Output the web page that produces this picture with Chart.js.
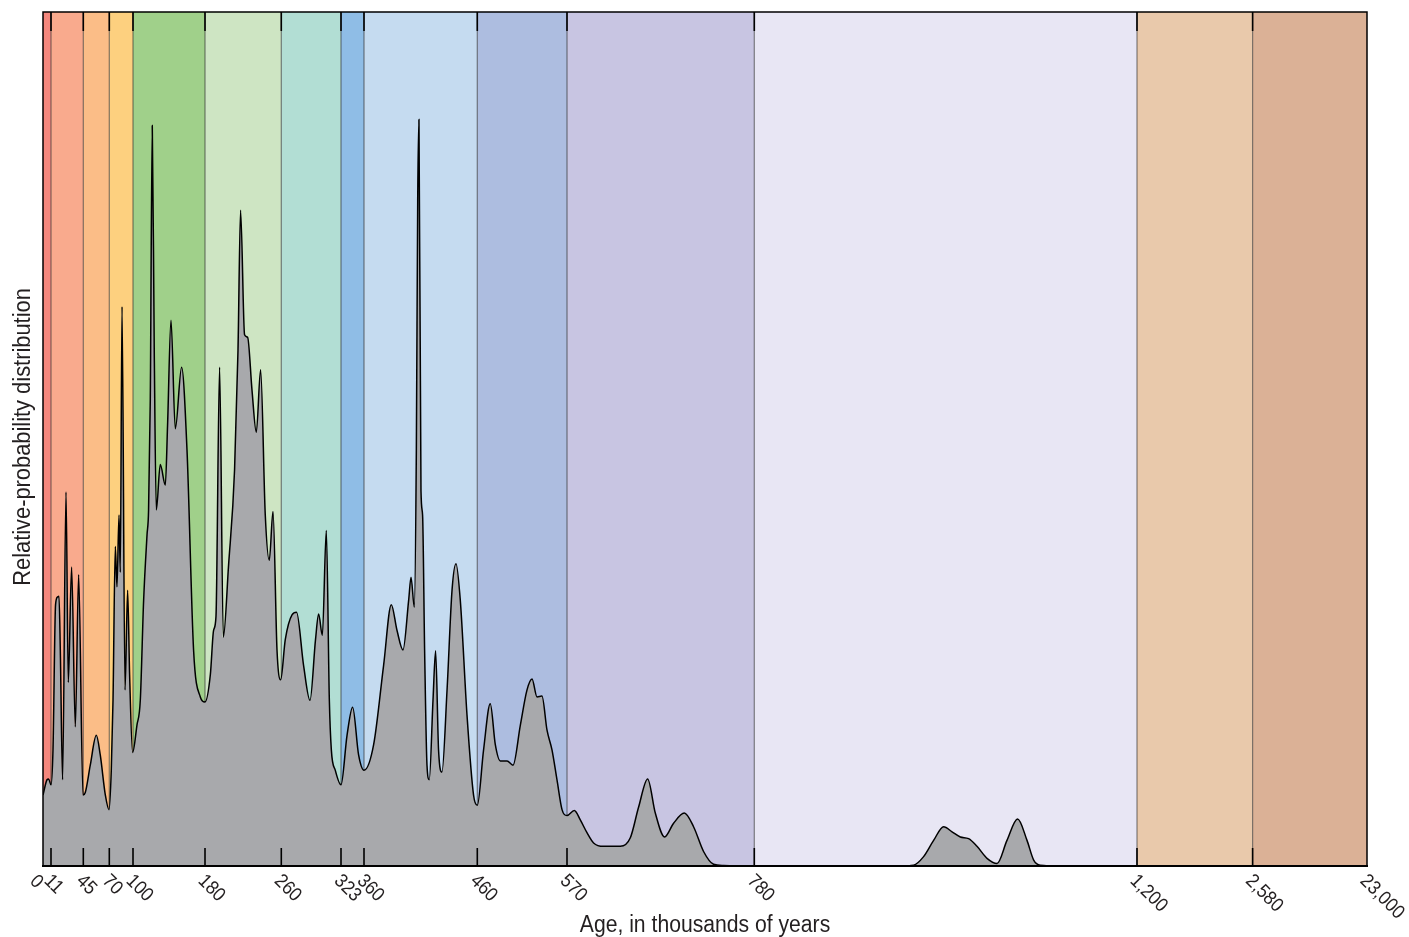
<!DOCTYPE html>
<html>
<head>
<meta charset="utf-8">
<style>
  html, body { margin: 0; padding: 0; background: #ffffff; }
  #wrap { width: 1409px; height: 937px; }
</style>
<script src="https://cdn.jsdelivr.net/npm/chart.js"></script>
</head>
<body>
<div id="wrap"><canvas id="c" width="1409" height="937"></canvas></div>
<script>
// ---- Data -------------------------------------------------------------
// Age-band boundaries (thousands of years) – also the tick values
const ageBoundaries = [0, 11, 45, 70, 100, 180, 260, 323, 360, 460, 570, 780, 1200, 2580, 23000];
const tickLabels = ['0', '11', '45', '70', '100', '180', '260', '323', '360', '460', '570', '780', '1,200', '2,580', '23,000'];

// Ages (ka) of the sampled relative-probability curve
const ages = [
  0, 5.5, 7.7, 11, 13.1, 15.8, 17.9, 19.4, 20.8, 23.2, 26.8, 29.2, 32.7, 36.6, 40.1, 44.7,
  46.9, 51.7, 57.5, 61.3, 66.2, 69.7,
  72.5, 74.7, 77.6, 79.7, 82.3, 83.9, 86.1, 89.9, 93.2, 95.7, 99.5,
  104.4, 108.1, 111.8, 115.6, 117.3, 119.2, 121.4, 123.6, 125.9, 130.3, 135.9, 138.4, 142.2, 147.0, 154.0, 160.0, 167.3, 174.8, 180.0,
  185.6, 189.0, 191.5, 195.3, 199.2, 204.7, 211.0, 214.6, 217.3, 221.5, 224.7, 229.3, 233.8, 238.3, 243.2, 247.4, 251.3, 255.5, 259.3,
  264.2, 271.3, 276.1, 283.5, 290.3, 296.1, 299.4, 303.3, 307.5, 310.7, 312.8, 317.0, 323.0,
  332.7, 341.7, 351.3, 360.0,
  368.5, 377.3, 384.1, 389.1, 394.4, 399.4, 401.5, 404.4, 406.2, 407.4, 408.5, 410.3, 411.7, 413.5, 415.6, 417.6, 420.9, 423.2, 425.8, 428.8, 433.3, 437.7, 441.2, 445.0, 450.9, 456.7, 460.0,
  467.7, 475.9, 482.1, 488.2, 496.5, 503.8, 512.8, 520.9, 527.1, 533.2, 539.3, 545.5, 551.6, 557.7, 563.9, 570.0,
  578.2, 584.9, 592.4, 599.8, 611.0, 629.8, 641.0, 650.3, 660.4, 669.0, 679.4, 689.5, 701.5, 711.9, 723.1, 734.3, 745.5, 780,
  940, 954.8, 965.8, 976.8, 987.8, 997.0, 1006.1, 1015.2, 1024.4, 1035.4, 1046.4, 1057.3, 1069.0, 1079.3, 1086.6, 1093.9, 1115, 23000
];
// Relative probability (arbitrary units, 0–100)
const density = [
  8.3, 10.1, 10.2, 9.5, 13.6, 30.6, 31.5, 31.6, 25.3, 10.1, 43.8, 21.5, 35.0, 16.3, 34.1, 8.3,
  8.6, 11.8, 15.3, 13.0, 8.3, 6.6,
  11.2, 19.4, 37.4, 32.7, 41.1, 34.4, 65.5, 20.6, 32.3, 22.4, 13.3,
  16.5, 19.4, 31.1, 38.8, 41.7, 54.6, 86.7, 60.4, 41.7, 47.0, 44.6, 51.6, 63.9, 51.2, 58.4, 48.7, 25.3, 19.8, 19.2,
  22.4, 27.6, 29.2, 58.4, 26.8, 35.2, 46.4, 60.4, 76.8, 62.2, 61.9, 55.7, 50.8, 58.1, 41.1, 35.8, 41.5, 25.3, 21.8,
  26.5, 29.4, 29.7, 23.5, 19.4, 26.5, 29.5, 27.0, 39.3, 19.4, 13.6, 11.2, 9.5,
  15.3, 18.6, 13.0, 11.2,
  14.2, 23.5, 30.6, 27.6, 25.3, 31.1, 33.8, 30.3, 48.7, 78.0, 87.4, 43.9, 41.1, 25.3, 11.8, 10.1, 19.4, 25.2, 13.6, 11.0, 20.6, 32.3, 35.4, 31.1, 17.7, 8.3, 7.1,
  13.6, 19.0, 14.2, 12.3, 12.3, 11.8, 16.5, 20.6, 21.9, 19.8, 19.9, 15.9, 13.6, 10.1, 6.6, 5.9,
  6.5, 5.4, 3.9, 2.7, 2.3, 2.3, 3.3, 6.9, 10.2, 6.2, 3.4, 5.0, 6.2, 4.6, 1.7, 0.2, 0.05, 0,
  0, 0.1, 1.1, 3.0, 4.6, 4.0, 3.4, 3.2, 2.3, 0.9, 0.3, 3.0, 5.5, 3.0, 0.7, 0.1, 0, 0
];

// ---- Axis configuration (distorted age axis) ---------------------------
// fraction of the axis length at which each boundary age sits
const axisFractions = [0, 0.00604, 0.03044, 0.05008, 0.06798, 0.12236, 0.17998, 0.22508,
  0.24245, 0.32802, 0.39577, 0.53724, 0.82628, 0.91360, 1];

const bandColors = ['#f4877d', '#f9aa8d', '#fbbd87', '#fdd07f', '#a0d08a', '#cee5c3', '#b2ded4',
  '#8fbde6', '#c5dbf0', '#adbde0', '#c8c5e2', '#e8e6f4', '#e9c9ab', '#dbb196'];

const FONT = '"Liberation Sans", Arial, sans-serif';
const NARROW = 0.9;   // horizontal condensing of the text
const INK = '#231f20';

// ---- Piecewise-linear scale -------------------------------------------
class PiecewiseScale extends Chart.LinearScale {
  getPixelForValue(value) {
    const b = ageBoundaries, f = axisFractions;
    let frac;
    if (value <= b[0]) frac = f[0];
    else if (value >= b[b.length - 1]) frac = f[f.length - 1];
    else {
      let i = 0;
      while (value > b[i + 1]) i++;
      frac = f[i] + (value - b[i]) / (b[i + 1] - b[i]) * (f[i + 1] - f[i]);
    }
    return this.getPixelForDecimal(frac);
  }
  getValueForPixel(pixel) {
    const b = ageBoundaries, f = axisFractions;
    const d = this.getDecimalForPixel(pixel);
    if (d <= 0) return b[0];
    if (d >= 1) return b[b.length - 1];
    let i = 0;
    while (d > f[i + 1]) i++;
    return b[i] + (d - f[i]) / (f[i + 1] - f[i]) * (b[i + 1] - b[i]);
  }
}
PiecewiseScale.id = 'piecewise';
PiecewiseScale.defaults = Chart.LinearScale.defaults;
Chart.register(PiecewiseScale);

// ---- Decoration plugin -------------------------------------------------
const decor = {
  id: 'decor',
  beforeDatasetsDraw(chart) {
    const { ctx, chartArea: a, scales: { x } } = chart;
    ctx.save();
    for (let i = 0; i < ageBoundaries.length - 1; i++) {
      const x0 = x.getPixelForValue(ageBoundaries[i]);
      const x1 = x.getPixelForValue(ageBoundaries[i + 1]);
      ctx.fillStyle = bandColors[i];
      ctx.fillRect(x0, a.top, x1 - x0, a.bottom - a.top);
    }
    ctx.strokeStyle = 'rgba(50,50,50,0.6)';
    ctx.lineWidth = 1.2;
    for (let i = 1; i < ageBoundaries.length - 1; i++) {
      const px = x.getPixelForValue(ageBoundaries[i]);
      ctx.beginPath();
      ctx.moveTo(px, a.top);
      ctx.lineTo(px, a.bottom);
      ctx.stroke();
    }
    ctx.restore();
  },
  afterDatasetsDraw(chart) {
    const { ctx, chartArea: a, scales: { x } } = chart;
    ctx.save();
    // inner tick marks (top and bottom)
    ctx.strokeStyle = '#000';
    ctx.lineWidth = 1.6;
    for (let i = 1; i < ageBoundaries.length - 1; i++) {
      const px = x.getPixelForValue(ageBoundaries[i]);
      ctx.beginPath();
      ctx.moveTo(px, a.bottom); ctx.lineTo(px, a.bottom - 18);
      ctx.moveTo(px, a.top); ctx.lineTo(px, a.top + 19);
      ctx.stroke();
    }
    // frame
    ctx.lineWidth = 1.5;
    ctx.strokeRect(a.left, a.top, a.right - a.left, a.bottom - a.top);
    ctx.lineWidth = 2;
    ctx.beginPath();
    ctx.moveTo(a.left - 1, a.bottom); ctx.lineTo(a.right + 1, a.bottom);
    ctx.stroke();

    // rotated tick labels
    ctx.fillStyle = INK;
    ctx.font = '19.5px ' + FONT;
    ctx.textAlign = 'left';
    ctx.textBaseline = 'middle';
    for (let i = 0; i < ageBoundaries.length; i++) {
      const px = x.getPixelForValue(ageBoundaries[i]);
      ctx.save();
      ctx.translate(px, a.bottom);
      ctx.rotate(Math.PI / 4);
      ctx.translate(i === 0 ? 1.5 : 5.7, i === 0 ? 16 : 11.3);
      ctx.scale(NARROW, 1);
      ctx.fillText(tickLabels[i], 0, 0);
      ctx.restore();
    }

    // axis titles
    ctx.font = '23.5px ' + FONT;
    ctx.textAlign = 'center';
    ctx.textBaseline = 'alphabetic';
    ctx.save();
    ctx.translate((a.left + a.right) / 2, 931.5);
    ctx.scale(NARROW, 1);
    ctx.fillText('Age, in thousands of years', 0, 0);
    ctx.restore();
    ctx.save();
    ctx.translate(30, (a.top + a.bottom) / 2 - 2);
    ctx.rotate(-Math.PI / 2);
    ctx.scale(0.93, 1);
    ctx.fillText('Relative-probability distribution', 0, 0);
    ctx.restore();
    ctx.restore();
  }
};

// ---- Chart -------------------------------------------------------------
new Chart(document.getElementById('c'), {
  type: 'line',
  data: {
    datasets: [{
      data: ages.map((a, i) => ({ x: a, y: density[i] })),
      borderColor: '#000000',
      borderWidth: 1.5,
      backgroundColor: '#a8a9ac',
      fill: 'origin',
      pointRadius: 0,
      cubicInterpolationMode: 'monotone'
    }]
  },
  options: {
    responsive: false,
    animation: false,
    devicePixelRatio: 1,
    layout: { padding: { left: 43, right: 42, top: 12, bottom: 71 } },
    plugins: { legend: { display: false }, tooltip: { enabled: false } },
    scales: {
      x: { type: 'piecewise', min: 0, max: 23000, display: false },
      y: { type: 'linear', min: 0, max: 100, display: false }
    }
  },
  plugins: [decor]
});
</script>
</body>
</html>
